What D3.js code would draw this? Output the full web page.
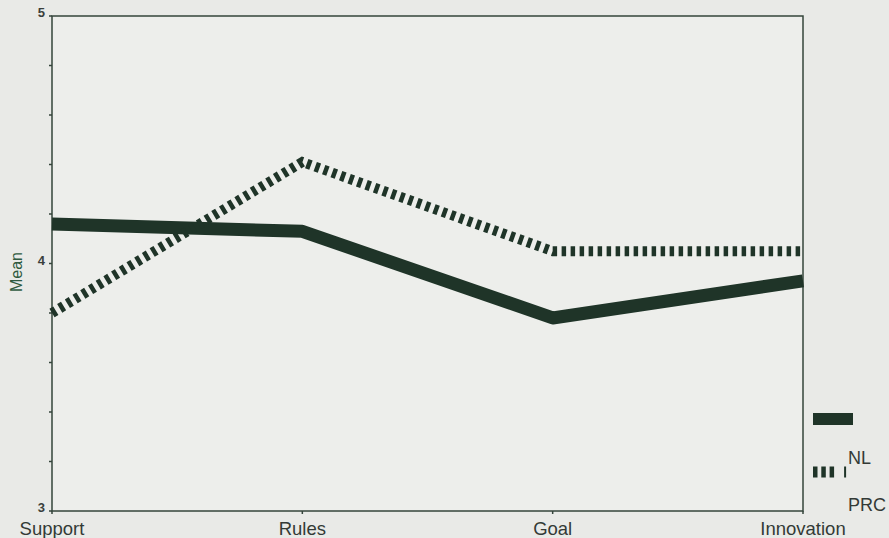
<!DOCTYPE html>
<html>
<head>
<meta charset="utf-8">
<script src="https://cdn.jsdelivr.net/npm/d3@7"></script>
<style>
  html, body { margin: 0; padding: 0; background: #e9eae7; }
  svg { display: block; font-family: "Liberation Sans", Arial, sans-serif; }
</style>
</head>
<body>
<div id="chart"></div>
<script>
const categories = ['Support', 'Rules', 'Goal', 'Innovation'];
const nlValues = [4.16, 4.13, 3.78, 3.93];
const prcValues = [3.80, 4.41, 4.05, 4.05];
const yTicks = [3, 3.2, 3.4, 3.6, 3.8, 4, 4.2, 4.4, 4.6, 4.8, 5];
const yLabels = [3, 4, 5];

const totalWidth = 889;
const totalHeight = 538;

const margin = { top: 16, bottom: 27, left: 52, right: 86 };
const width = totalWidth - margin.left - margin.right;
const height = totalHeight - margin.top - margin.bottom;

const ink = '#1f3428';
const axisInk = '#34453b';
const textInk = '#333a36';

const x = d3.scalePoint()
    .domain(categories)
    .range([0, width]);

const y = d3.scaleLinear()
    .domain([3, 5])
    .range([height, 0]);

const svg = d3.select('#chart').append('svg')
    .attr('width', totalWidth)
    .attr('height', totalHeight);

svg.append('rect')
    .attr('width', totalWidth)
    .attr('height', totalHeight)
    .attr('fill', '#e9eae7');

const g = svg.append('g')
    .attr('transform', `translate(${margin.left},${margin.top})`);

// plot frame
g.append('rect')
    .attr('width', width)
    .attr('height', height)
    .attr('fill', '#edeeeb')
    .attr('stroke', axisInk)
    .attr('stroke-width', 1.5);

// y ticks
g.selectAll('.ytick')
  .data(yTicks)
  .join('line')
    .attr('class', 'ytick')
    .attr('x1', -3)
    .attr('x2', 0)
    .attr('y1', d => y(d))
    .attr('y2', d => y(d))
    .attr('stroke', axisInk)
    .attr('stroke-width', 1.5);

g.selectAll('.ylabel')
  .data(yLabels)
  .join('text')
    .attr('class', 'ylabel')
    .attr('x', -7)
    .attr('y', d => y(d) - 2)
    .attr('text-anchor', 'end')
    .attr('dominant-baseline', 'middle')
    .attr('font-size', 13)
    .attr('font-weight', 'bold')
    .attr('fill', '#3a3f3c')
    .text(d => d);

// x ticks
g.selectAll('.xtick')
  .data(categories)
  .join('line')
    .attr('class', 'xtick')
    .attr('x1', d => x(d))
    .attr('x2', d => x(d))
    .attr('y1', height)
    .attr('y2', height + 3)
    .attr('stroke', axisInk)
    .attr('stroke-width', 1.5);

g.selectAll('.xlabel')
  .data(categories)
  .join('text')
    .attr('class', 'xlabel')
    .attr('x', d => x(d))
    .attr('y', height + 24)
    .attr('text-anchor', 'middle')
    .attr('font-size', 18.5)
    .attr('fill', textInk)
    .text(d => d);

// axis title
svg.append('text')
    .attr('transform', `translate(22,272) rotate(-90)`)
    .attr('text-anchor', 'middle')
    .attr('font-size', 16)
    .attr('fill', '#2f5a40')
    .text('Mean');

// lines
const line = d3.line()
    .x((d, i) => x(categories[i]))
    .y(d => y(d));

g.append('path')
    .datum(nlValues)
    .attr('fill', 'none')
    .attr('stroke', ink)
    .attr('stroke-width', 13)
    .attr('stroke-linejoin', 'round')
    .attr('d', line);

g.append('path')
    .datum(prcValues)
    .attr('fill', 'none')
    .attr('stroke', ink)
    .attr('stroke-width', 10)
    .attr('stroke-dasharray', '4.5,4.5')
    .attr('d', line);

// legend
const legend = svg.append('g')
    .attr('transform', `translate(${margin.left + width + 10},0)`);

legend.append('line')
    .attr('x1', 0)
    .attr('x2', 40)
    .attr('y1', 419)
    .attr('y2', 419)
    .attr('stroke', ink)
    .attr('stroke-width', 12);

legend.append('text')
    .attr('x', 35)
    .attr('y', 464)
    .attr('font-size', 18)
    .attr('fill', textInk)
    .text('NL');

legend.append('line')
    .attr('x1', 0)
    .attr('x2', 40)
    .attr('y1', 472)
    .attr('y2', 472)
    .attr('stroke', ink)
    .attr('stroke-width', 11)
    .attr('stroke-dasharray', '4.5,3.8,4.5,3.8,4.5,10,2,100');

legend.append('text')
    .attr('x', 35)
    .attr('y', 511)
    .attr('font-size', 18)
    .attr('fill', textInk)
    .text('PRC');
</script>
</body>
</html>
